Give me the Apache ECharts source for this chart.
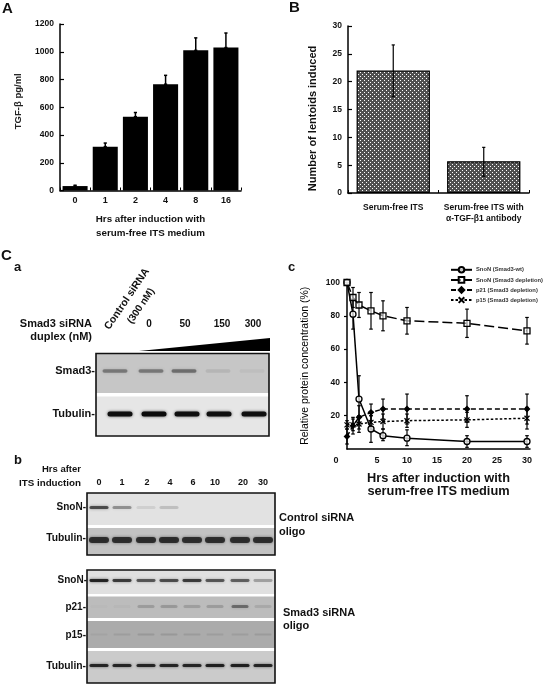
<!DOCTYPE html>
<html>
<head>
<meta charset="utf-8">
<style>html,body{margin:0;padding:0;background:#fff}#chart{width:544px;height:684px;filter:blur(0.35px)}</style>
<script src="https://cdn.jsdelivr.net/npm/echarts@6/dist/echarts.min.js"></script>
</head>
<body>
<div id="chart"></div>
<script>
// Panel A
const tgfHours = ['0','1','2','4','8','16'];
const tgfValues = [32,316,532,766,1010,1030];
const tgfHigh = [38,342,562,830,1100,1135];
// Panel B
const lentoidCats = ['Serum-free ITS','Serum-free ITS with\nα-TGF-β1 antibody'];
const lentoidValues = [22,5.7];
const lentoidLow = [17.3,3];
const lentoidHigh = [26.6,8.2];
// Panel C c
const hours = [0,1,2,4,6,10,20,30];
const snonWt = [100,81,30,12,8,6.5,4.5,4.5];
const snonWtLow = [100,72,16,4,5,2,1,1];
const snonWtHigh = [100,90,44,20,12,11.5,8,8];
const snonDep = [100,91,86.5,83,80,77,75.5,71];
const snonDepLow = [100,85,79,72,71,69,67,63];
const snonDepHigh = [100,97,94,94,89,85,84,79];
const p21Dep = [7.5,14,19,22,24,24,24,24];
const p21Low = [3,9,12,17,18,15,16,15];
const p21High = [12,19,26,27,30,33,32,33];
const p15Dep = [14.5,14.5,15,16,16.5,17,17.5,18.5];
const p15Low = [12,11,10,12,12,13,13,12];
const p15High = [17,18,20,20,21,21,22,25];
// Blot band strengths
const smad3Bands = [0.55,0.55,0.62,0.12,0.06];
const tubulinABands = [0.95,1,0.95,0.95,0.95];
const snonCtlBands = [0.8,0.42,0.1,0.18,0,0,0,0];
const tubulinCtlBands = [0.9,0.9,0.9,0.9,0.9,0.9,0.9,0.9];
const snonSiBands = [0.95,0.8,0.65,0.7,0.8,0.65,0.6,0.3];
const p21Bands = [0.02,0.03,0.2,0.22,0.18,0.2,0.5,0.12];
const p15Bands = [0.06,0.1,0.14,0.14,0.12,0.1,0.1,0.12];
const tubulinSiBands = [0.9,0.9,0.9,0.9,0.9,0.95,0.95,0.9];
const laneHours = ['0','1','2','4','6','10','20','30'];

const FONT = '"Liberation Sans", Arial, sans-serif';
const pat = document.createElement('canvas');
pat.width = pat.height = 4;
(function(){const g = pat.getContext('2d');g.fillStyle='#505050';g.fillRect(0,0,4,4);g.fillStyle='#ffffff';g.fillRect(0,0,1,1);g.fillRect(2,2,1,1);})();

function errSeries(name,xi,xs,lo,hi,cap,lw){
  return {
    type:'custom', xAxisIndex:xi, yAxisIndex:xi, z:2, silent:true, clip:false,
    data: xs.map((x,i)=>[x,lo[i],hi[i]]),
    encode:{x:0,y:[1,2]},
    renderItem:function(p,api){
      const a = api.coord([api.value(0),api.value(1)]);
      const b = api.coord([api.value(0),api.value(2)]);
      const st = {stroke:'#000',lineWidth:lw};
      return {type:'group',children:[
        {type:'line',shape:{x1:a[0],y1:a[1],x2:b[0],y2:b[1]},style:st},
        {type:'line',shape:{x1:a[0]-cap,y1:a[1],x2:a[0]+cap,y2:a[1]},style:st},
        {type:'line',shape:{x1:b[0]-cap,y1:b[1],x2:b[0]+cap,y2:b[1]},style:st}
      ]};
    }
  };
}
function axisBase(){return {axisLine:{show:true,onZero:false,lineStyle:{color:'#000',width:1.5}},splitLine:{show:false}};}
function lineSeries(name,vals,symbol,size,fill,dash){
  return {name,type:'line',xAxisIndex:2,yAxisIndex:2,z:4,data:hours.map((h,i)=>[h,vals[i]]),
    symbol,symbolSize:size,showAllSymbol:true,clip:false,
    lineStyle:{color:'#000',width:1.5,type:dash},
    itemStyle:{color:fill,borderColor:'#000',borderWidth:1.3}};
}
// graphics helpers for the blot images
const gfx = [];
function T(text,x,y,size,align,extra){
  gfx.push(Object.assign({type:'text',x,y,silent:true,z:20,style:{text,font:'bold '+size+'px '+FONT,fill:'#111',textAlign:align||'left',textVerticalAlign:'middle'}},extra||{}));
}
function R(x,y,w,h,fill){gfx.push({type:'rect',silent:true,z:5,shape:{x,y,width:w,height:h},style:{fill}});}
function F(x,y,w,h){gfx.push({type:'rect',silent:true,z:12,shape:{x,y,width:w,height:h},style:{fill:'none',stroke:'#111',lineWidth:1.6}});}
function bands(xs,y,w,h,vals,rgb){
  vals.forEach((v,i)=>{ if(v<=0) return;
    gfx.push({type:'rect',silent:true,z:8,shape:{x:xs[i]-w/2,y:y-h/2,width:w,height:h,r:h/2},
      style:{fill:'rgba('+rgb+','+v+')',shadowBlur:3,shadowColor:'rgba('+rgb+','+(v*0.7)+')'}});
  });
}
// panel letters
T('A',2,9,15); T('B',289,8,15); T('C',1,256,15); T('a',14,267,13); T('b',14,460,13); T('c',288,267,13);
// C a
T('Control siRNA',127,299,10.5,'center',{rotation:56*Math.PI/180});
T('(300 nM)',141,306,10,'center',{rotation:56*Math.PI/180});
T('Smad3 siRNA',92,324,11,'right'); T('duplex (nM)',92,337,11,'right');
[['0',149],['50',185],['150',222],['300',253]].forEach(d=>T(d[0],d[1],324,10,'center'));
gfx.push({type:'polygon',silent:true,z:6,shape:{points:[[139,351],[270,338],[270,351]]},style:{fill:'#000'}});
R(96,354,173,39,'#c6c6c6'); R(96,393,173,3.5,'#fff'); R(96,396.5,173,39,'#e6e6e6');
bands([115,151,184,218,252],371,25,3.5,smad3Bands,'70,70,70');
bands([120,154,187,219,254],414,25,5,tubulinABands,'10,10,10');
F(96,353.5,173,82.5);
T('Smad3-',95,371,11,'right'); T('Tubulin-',95,414,11,'right');
// C b
T('Hrs after',81,469,9.5,'right'); T('ITS induction',81,483,9.8,'right');
const laneX = [99,122,146,169,192,215,240,263];
const labX = [99,122,147,170,193,215,243,263];
laneHours.forEach((h,i)=>T(h,labX[i],483,9,'center'));
R(87,493,188,32,'#e2e2e2'); R(87,525,188,3,'#fff'); R(87,528,188,27,'#c2c2c2');
bands(laneX,507.5,19,3,snonCtlBands,'50,50,50');
bands(laneX,540,20,6,tubulinCtlBands,'35,35,35');
F(87,493,188,62);
T('SnoN-',86,507,10,'right'); T('Tubulin-',86,538,10.3,'right');
T('Control siRNA',279,518,11); T('oligo',279,532,11);
R(87,570,188,24,'#e0e0e0'); R(87,594,188,2.5,'#fff'); R(87,596.5,188,21.5,'#bcbcbc'); R(87,618,188,3,'#fff');
R(87,621,188,27,'#ababab'); R(87,648,188,3,'#fff'); R(87,651,188,32,'#cbcbcb');
bands(laneX,580.5,19,2.8,snonSiBands,'30,30,30');
bands(laneX,606.5,17,3,p21Bands,'40,40,40');
bands(laneX,634.5,17,2,p15Bands,'50,50,50');
bands(laneX,665.5,19,3,tubulinSiBands,'25,25,25');
F(87,570,188,113);
T('SnoN-',87,580,10,'right'); T('p21-',86,607,10,'right'); T('p15-',86,635,10,'right'); T('Tubulin-',86,666,10.3,'right');
T('Smad3 siRNA',283,613,11); T('oligo',283,626,11);

const chart = echarts.init(document.getElementById('chart'),null,{renderer:'canvas'});
const labelStyle = {color:'#111',fontFamily:FONT,fontWeight:'bold',fontSize:8.5};
const plain = v => String(v);
chart.setOption({
  animation:false,
  backgroundColor:'#fff',
  textStyle:{fontFamily:FONT},
  graphic:{elements:gfx},
  grid:[
    {left:60,top:24,width:181,height:166.5},
    {left:348,top:26,width:181,height:167},
    {left:347,top:282.5,width:183,height:166.5}
  ],
  legend:{
    left:450,top:266,orient:'vertical',itemWidth:21,itemHeight:7,itemGap:2.5,padding:0,
    data:['SnoN (Smad3-wt)','SnoN (Smad3 depletion)','p21 (Smad3 depletion)','p15 (Smad3 depletion)'],
    textStyle:{fontSize:5.8,fontWeight:'bold',color:'#333',fontFamily:FONT,padding:[0,0,0,-1]}
  },
  xAxis:[
    Object.assign(axisBase(),{gridIndex:0,type:'category',data:tgfHours,
      axisTick:{show:true,inside:true,length:3,lineStyle:{color:'#000',width:1}},
      axisLabel:Object.assign({},labelStyle,{fontSize:9,margin:6,interval:0}),
      name:'Hrs after induction with\nserum-free ITS medium',nameLocation:'middle',nameGap:22,
      nameTextStyle:{fontFamily:FONT,fontWeight:'bold',fontSize:9.8,color:'#111',lineHeight:14}}),
    Object.assign(axisBase(),{gridIndex:1,type:'category',data:lentoidCats,
      axisTick:{show:true,inside:true,length:3,lineStyle:{color:'#000',width:1}},
      axisLabel:Object.assign({},labelStyle,{margin:9,lineHeight:11,interval:0})}),
    Object.assign(axisBase(),{gridIndex:2,type:'value',min:0,max:30.5,interval:5,
      axisTick:{show:false},
      axisLabel:Object.assign({},labelStyle,{fontSize:9,margin:7,
        formatter:function(v){ if(v%5!==0) return ''; return v===0 ? '{z|0}' : String(v); },
        showMinLabel:true,showMaxLabel:true,
        rich:{z:{fontFamily:FONT,fontWeight:'bold',fontSize:9,color:'#111',padding:[0,22,4,0]}}}),
      name:'Hrs after induction with\nserum-free ITS medium',nameLocation:'middle',nameGap:23,
      nameTextStyle:{fontFamily:FONT,fontWeight:'bold',fontSize:12.8,color:'#111',lineHeight:13}})
  ],
  yAxis:[
    Object.assign(axisBase(),{gridIndex:0,type:'value',min:0,max:1200,interval:200,
      axisTick:{show:true,inside:true,length:4,lineStyle:{color:'#000',width:1.2}},
      axisLabel:Object.assign({},labelStyle,{margin:6,formatter:plain}),
      name:'TGF-β pg/ml',nameLocation:'middle',nameGap:37,
      nameTextStyle:{fontFamily:FONT,fontWeight:'bold',fontSize:9.5,color:'#222',padding:[0,0,0,12]}}),
    Object.assign(axisBase(),{gridIndex:1,type:'value',min:0,max:30,interval:5,
      axisTick:{show:true,inside:true,length:4,lineStyle:{color:'#000',width:1.2}},
      axisLabel:Object.assign({},labelStyle,{margin:6,formatter:plain}),
      name:'Number of lentoids induced',nameLocation:'middle',nameGap:30,
      nameTextStyle:{fontFamily:FONT,fontWeight:'bold',fontSize:11,color:'#111',padding:[0,18,0,0]}}),
    Object.assign(axisBase(),{gridIndex:2,type:'value',min:0,max:100,interval:20,
      axisTick:{show:true,inside:false,length:3,lineStyle:{color:'#000',width:1.2}},
      axisLabel:Object.assign({},labelStyle,{margin:7,showMinLabel:false,formatter:plain}),
      name:'Relative protein concentration (%)',nameLocation:'middle',nameGap:36,
      nameTextStyle:{fontFamily:FONT,fontWeight:'normal',fontSize:10.5,color:'#000'}})
  ],
  series:[
    {type:'bar',xAxisIndex:0,yAxisIndex:0,data:tgfValues,barCategoryGap:'17%',itemStyle:{color:'#000'},z:3},
    errSeries('a',0,tgfHours,tgfValues,tgfHigh,1.6,1.5),
    {type:'bar',xAxisIndex:1,yAxisIndex:1,data:lentoidValues,barCategoryGap:'19%',z:1,
      itemStyle:{color:{image:pat,repeat:'repeat'},borderColor:'#000',borderWidth:1.2}},
    errSeries('b',1,lentoidCats,lentoidLow,lentoidHigh,1.6,1.2),
    errSeries('w',2,hours,snonWtLow,snonWtHigh,1.8,1.2),
    errSeries('d',2,hours,snonDepLow,snonDepHigh,1.8,1.2),
    errSeries('p',2,hours,p21Low,p21High,1.8,1.2),
    errSeries('q',2,hours,p15Low,p15High,1.8,1.2),
    lineSeries('SnoN (Smad3-wt)',snonWt,'circle',6,'rgba(255,255,255,0.75)','solid'),
    lineSeries('SnoN (Smad3 depletion)',snonDep,'rect',6,'rgba(255,255,255,0.55)',[10,4]),
    lineSeries('p21 (Smad3 depletion)',p21Dep,'diamond',5,'#000',[5,3]),
    lineSeries('p15 (Smad3 depletion)',p15Dep,'path://M0,0L10,10M10,0L0,10',5,'#000',[2.5,2])
  ]
});
</script>
</body>
</html>
